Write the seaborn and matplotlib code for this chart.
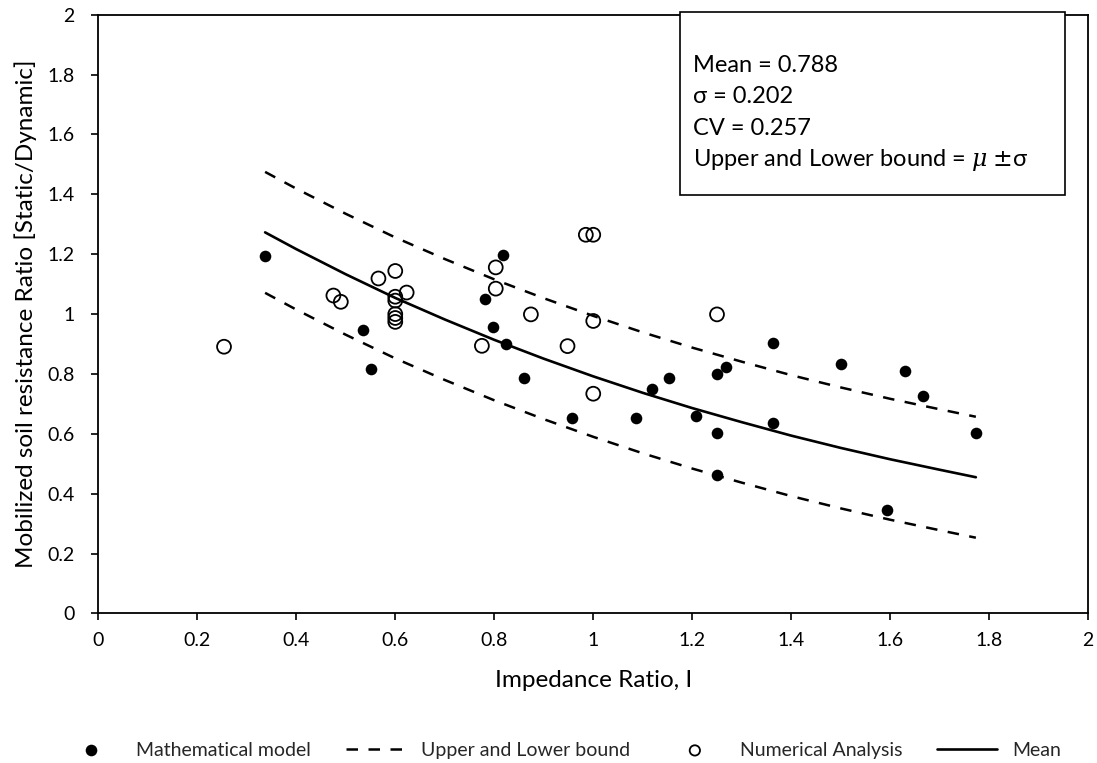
import matplotlib
matplotlib.use("Agg")
import matplotlib.pyplot as plt
import seaborn as sns
from matplotlib.patches import Rectangle

# Mathematical model (filled circles)
math_x = [0.337, 0.535, 0.550, 0.781, 0.798, 0.818, 0.824, 0.860, 0.958, 1.086, 1.119, 1.153,
          1.207, 1.250, 1.269, 1.250, 1.250, 1.364, 1.364, 1.500, 1.593, 1.630, 1.667, 1.773]
math_y = [1.194, 0.947, 0.815, 1.049, 0.957, 1.199, 0.899, 0.785, 0.654, 0.654, 0.750, 0.787,
          0.659, 0.800, 0.823, 0.602, 0.462, 0.902, 0.635, 0.833, 0.346, 0.811, 0.728, 0.602]

# Numerical Analysis (open circles)
num_x = [0.254, 0.475, 0.490, 0.566, 0.600, 0.623, 0.600, 0.600, 0.600, 0.600, 0.600,
         0.775, 0.803, 0.803, 0.874, 0.948, 0.985, 1.000, 1.000, 1.000, 1.250]
num_y = [0.891, 1.062, 1.041, 1.119, 1.144, 1.072, 1.058, 1.045, 1.000, 0.987, 0.974,
         0.894, 1.156, 1.085, 0.999, 0.893, 1.265, 1.265, 0.977, 0.734, 0.999]

# Mean curve and bounds
curve_x = [0.337, 0.4, 0.5, 0.6, 0.7, 0.8, 0.9, 1.0, 1.1, 1.2, 1.3, 1.4, 1.5, 1.6, 1.7, 1.773]
mean_y = [1.273, 1.217, 1.133, 1.054, 0.982, 0.914, 0.851, 0.792, 0.737, 0.686, 0.639,
          0.594, 0.553, 0.515, 0.480, 0.455]
upper_y = [1.475, 1.419, 1.335, 1.256, 1.184, 1.116, 1.053, 0.994, 0.939, 0.888, 0.841,
           0.796, 0.755, 0.717, 0.682, 0.657]
lower_y = [1.071, 1.015, 0.931, 0.852, 0.780, 0.712, 0.649, 0.590, 0.535, 0.484, 0.437,
           0.392, 0.351, 0.313, 0.278, 0.253]

stats_lines = ["Mean = 0.788", "σ = 0.202", "CV = 0.257", r"Upper and Lower bound = $\mu$ $\pm$σ"]
legend_labels = ["Mathematical model", "Upper and Lower bound", "Numerical Analysis", "Mean"]
ticks = [0, 0.2, 0.4, 0.6, 0.8, 1, 1.2, 1.4, 1.6, 1.8, 2]
tick_labels = ["0", "0.2", "0.4", "0.6", "0.8", "1", "1.2", "1.4", "1.6", "1.8", "2"]

sns.set_style("ticks")
plt.rcParams["font.family"] = ["Lato", "DejaVu Sans"]
plt.rcParams["mathtext.fontset"] = "dejavuserif"

fig = plt.figure(figsize=(10.97, 7.63), dpi=100)
ax = fig.add_axes([0.0896, 0.196, 0.9024, 0.7847])

dash = (0, (4.6, 4.2))
sns.lineplot(x=curve_x, y=upper_y, color="black", lw=1.8, linestyle=dash, sort=False,
             errorbar=None, ax=ax)
sns.lineplot(x=curve_x, y=lower_y, color="black", lw=1.8, linestyle=dash, sort=False,
             errorbar=None, ax=ax)
sns.lineplot(x=curve_x, y=mean_y, color="black", lw=1.9, sort=False, errorbar=None, ax=ax)
math_pts = sns.scatterplot(x=math_x, y=math_y, color="black", s=70, edgecolor="black",
                           linewidth=0, ax=ax, zorder=3).collections[-1]
num_pts = sns.scatterplot(x=num_x, y=num_y, color="black", facecolor="none", edgecolor="black",
                          s=100, linewidth=1.3, ax=ax, zorder=3).collections[-1]

ax.set_xlim(0, 2)
ax.set_ylim(0, 2)
ax.set_xticks(ticks)
ax.set_xticklabels(tick_labels)
ax.set_yticks(ticks)
ax.set_yticklabels(tick_labels)
for side in ["top", "right", "bottom", "left"]:
    ax.spines[side].set_visible(True)
    ax.spines[side].set_color("black")
    ax.spines[side].set_linewidth(1.3)
ax.tick_params(axis="both", direction="out", length=5, width=1.2, colors="black", labelsize=14)
ax.tick_params(axis="x", pad=8.5)
ax.tick_params(axis="y", pad=12)

ax.set_xlabel("Impedance Ratio, I", fontsize=17.5, color="black")
ax.xaxis.set_label_coords(0.5, -0.094)
ax.set_ylabel("Mobilized soil resistance Ratio [Static/Dynamic]", fontsize=17.5, color="black")
ax.yaxis.set_label_coords(-0.0624, 0.5)

# stats box
fig.patches.append(Rectangle((0.620, 0.7444), 0.351, 0.2399, transform=fig.transFigure,
                             facecolor="white", edgecolor="black", linewidth=1.2, zorder=5))
for i, line in enumerate(stats_lines):
    fig.text(0.632, 0.9148 - i * 0.0415, line, fontsize=17, va="center", ha="left",
             color="black", zorder=6)

upper_line, mean_line = ax.lines[0], ax.lines[2]
leg = fig.legend([math_pts, upper_line, num_pts, mean_line], legend_labels,
                 loc="center left", bbox_to_anchor=(0.0485, 0.017), ncol=4, frameon=False,
                 fontsize=14, handlelength=3.1, handletextpad=0.75, columnspacing=1.8,
                 scatterpoints=1, borderaxespad=0)
leg.legend_handles[2].set_sizes([55])

fig.savefig("out.png", dpi=100)
